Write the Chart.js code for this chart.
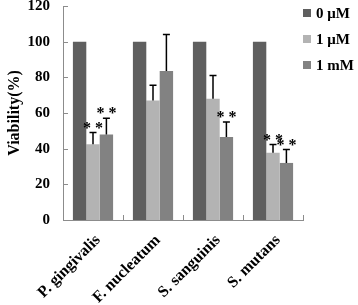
<!DOCTYPE html>
<html>
<head>
<meta charset="utf-8">
<script src="https://cdn.jsdelivr.net/npm/chart.js@4.4.0/dist/chart.umd.min.js"></script>
<style>
  html, body { margin: 0; padding: 0; background: #fff; }
  #wrap { width: 358px; height: 305px; }
</style>
</head>
<body>
<div id="wrap"><canvas id="myChart" width="358" height="305"></canvas></div>
<script>
// values
const categories = ['P. gingivalis', 'F. nucleatum', 'S. sanguinis', 'S. mutans'];
const seriesLabels = ['0 \u03bcM', '1 \u03bcM', '1 mM'];
const ctrl = [100, 100, 100, 100];
const low = [42.5, 67, 68, 37.7];
const high = [48, 83.5, 46.6, 32];
const lowErr = [6.5, 8.6, 13, 4.7];
const highErr = [9, 20.5, 8.4, 7.6];
const lowStars = ['* *', '', '', '* *'];
const highStars = ['* *', '', '* *', '* *'];
const yTicks = [0, 20, 40, 60, 80, 100, 120];

const serif = "'Liberation Serif', 'Times New Roman', serif";
const colors = ['#5f5f5f', '#b3b3b3', '#828282'];

// error bars + significance marks
const errorBars = {
  id: 'errorBars',
  afterDatasetsDraw(chart) {
    const ctx = chart.ctx;
    const y = chart.scales.y;
    const errs = [null, lowErr, highErr];
    const stars = [null, lowStars, highStars];
    ctx.save();
    for (let d = 1; d < 3; d++) {
      const meta = chart.getDatasetMeta(d);
      meta.data.forEach((bar, i) => {
        const v = chart.data.datasets[d].data[i];
        const top = y.getPixelForValue(v + errs[d][i]);
        ctx.strokeStyle = '#000';
        ctx.lineWidth = 1.5;
        ctx.beginPath();
        ctx.moveTo(bar.x, bar.y);
        ctx.lineTo(bar.x, top);
        ctx.moveTo(bar.x - 3.5, top);
        ctx.lineTo(bar.x + 3.5, top);
        ctx.stroke();
        if (stars[d][i]) {
          ctx.fillStyle = '#000';
          ctx.font = 'bold 16px ' + serif;
          ctx.textAlign = 'center';
          ctx.textBaseline = 'middle';
          ctx.fillText(stars[d][i], bar.x, top - 4);
        }
      });
    }
    ctx.restore();
  }
};

// inward tick marks on both axes
const innerTicks = {
  id: 'innerTicks',
  afterDraw(chart) {
    const ctx = chart.ctx;
    const {x, y} = chart.scales;
    const area = chart.chartArea;
    ctx.save();
    ctx.strokeStyle = '#8c8c8c';
    ctx.lineWidth = 1;
    ctx.beginPath();
    yTicks.forEach(t => {
      const py = Math.round(y.getPixelForValue(t)) + 0.5;
      ctx.moveTo(area.left, py);
      ctx.lineTo(area.left + 5, py);
    });
    for (let i = 0; i < categories.length; i++) {
      const px = Math.round(x.getPixelForValue(i) + (x.getPixelForValue(1) - x.getPixelForValue(0)) / 2) + 0.5;
      ctx.moveTo(px, area.bottom);
      ctx.lineTo(px, area.bottom - 5);
    }
    ctx.stroke();
    ctx.restore();
  }
};

// legend at upper right
const sideLegend = {
  id: 'sideLegend',
  afterDraw(chart) {
    const ctx = chart.ctx;
    const ys = [13, 39, 65];
    ctx.save();
    ctx.font = 'bold 15px ' + serif;
    ctx.textBaseline = 'middle';
    ctx.textAlign = 'left';
    seriesLabels.forEach((lab, i) => {
      ctx.fillStyle = colors[i];
      ctx.fillRect(303, ys[i] - 4, 8, 8);
      ctx.fillStyle = '#000';
      ctx.fillText(lab, 316, ys[i] + 1);
    });
    ctx.restore();
  }
};

const ctx = document.getElementById('myChart').getContext('2d');
const myChart = new Chart(ctx, {
  type: 'bar',
  data: {
    labels: categories,
    datasets: [
      { label: seriesLabels[0], data: ctrl, backgroundColor: colors[0] },
      { label: seriesLabels[1], data: low, backgroundColor: colors[1] },
      { label: seriesLabels[2], data: high, backgroundColor: colors[2] }
    ]
  },
  options: {
    responsive: false,
    animation: false,
    layout: { padding: { top: 6, right: 55, left: 0, bottom: 0 } },
    datasets: { bar: { barPercentage: 1, categoryPercentage: 0.67 } },
    plugins: {
      legend: { display: false },
      tooltip: { enabled: false }
    },
    scales: {
      x: {
        grid: { display: false, drawTicks: false },
        border: { display: true, color: '#8c8c8c', width: 1 },
        ticks: {
          color: '#000',
          font: { family: serif, size: 16, weight: 'bold' },
          maxRotation: 45,
          minRotation: 45,
          padding: 11,
          labelOffset: 5
        },
        afterFit(scale) { scale.height = 85; scale.paddingLeft = 0; scale.paddingRight = 0; }
      },
      y: {
        min: 0,
        max: 120,
        grid: { display: false, drawTicks: false },
        border: { display: true, color: '#8c8c8c', width: 1 },
        ticks: {
          stepSize: 20,
          color: '#000',
          font: { family: serif, size: 15, weight: 'bold' },
          padding: 13
        },
        title: {
          display: true,
          text: 'Viability(%)',
          color: '#000',
          font: { family: serif, size: 16, weight: 'bold' },
          padding: { top: 5, bottom: 0 }
        },
        afterFit(scale) { scale.width = 63; scale.paddingTop = 0; scale.paddingBottom = 0; }
      }
    }
  },
  plugins: [errorBars, innerTicks, sideLegend]
});
</script>
</body>
</html>
